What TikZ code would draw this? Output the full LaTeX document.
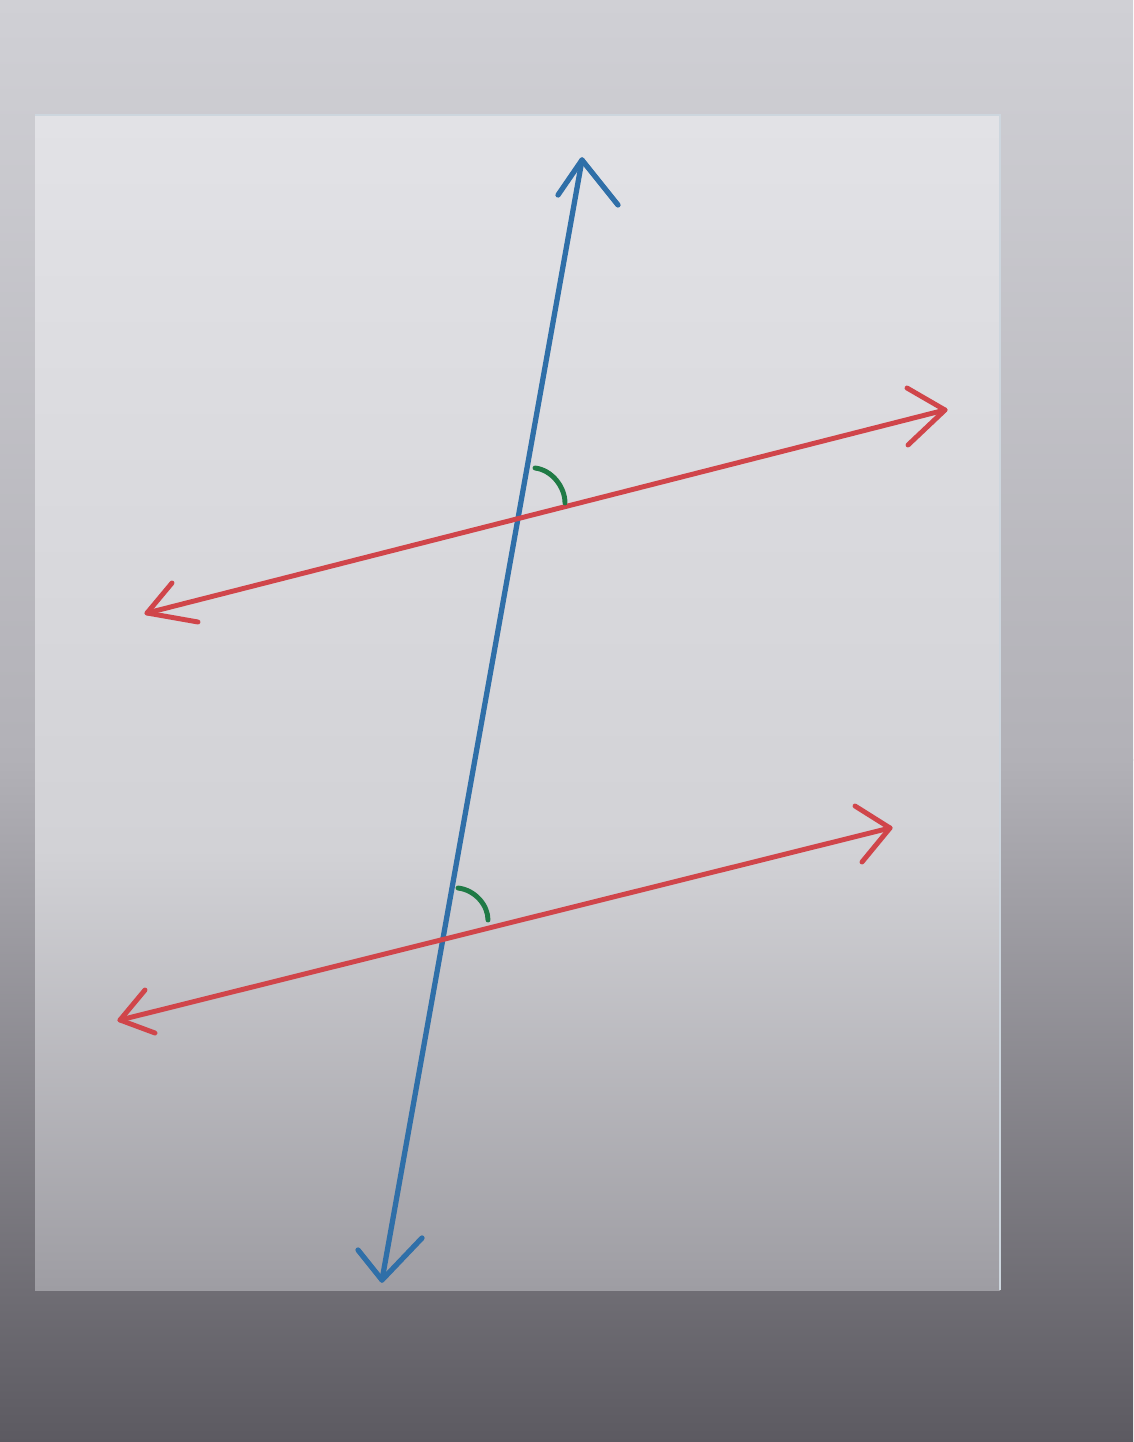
\documentclass[tikz,border=0pt]{standalone}
\usetikzlibrary{calc}
\definecolor{bluel}{HTML}{2F6FA8}
\definecolor{redl}{HTML}{D0454A}
\definecolor{greenl}{HTML}{1F7A45}
\definecolor{outA}{RGB}{208,208,213}
\definecolor{outB}{RGB}{178,177,183}
\definecolor{outC}{RGB}{92,90,97}
\definecolor{panA}{RGB}{226,226,230}
\definecolor{panB}{RGB}{210,210,214}
\definecolor{panC}{RGB}{158,157,163}
\begin{document}
\begin{tikzpicture}[x=0.02cm,y=-0.02cm,
  bline/.style={draw=bluel,line width=3pt,line cap=round,line join=round},
  rline/.style={draw=redl,line width=2.8pt,line cap=round,line join=round},
  angmark/.style={draw=greenl,line width=2.8pt,line cap=round}]
% background (photo of a screen)
\shade[top color=outA,bottom color=outB] (0,0) rectangle (1133,760);
\shade[top color=outB,bottom color=outC] (0,759) rectangle (1133,1442);
\useasboundingbox (0,0) rectangle (1133,1442);
\shade[top color=panA,bottom color=panB] (35,115) rectangle (1000,850);
\shade[top color=panB,bottom color=panC] (35,849) rectangle (1000,1290);
\draw[draw={rgb,255:red,205;green,214;blue,222},line width=1.5pt] (35,115) -- (1000,115) -- (1000,1290);
% coordinates
\coordinate (bT) at (582,160);
\coordinate (bB) at (382,1280);
\coordinate (bTl) at (558,195);
\coordinate (bTr) at (618,205);
\coordinate (bBl) at (358,1250);
\coordinate (bBr) at (422,1238);
\coordinate (r1L) at (147,613);
\coordinate (r1R) at (945,410);
\coordinate (r1Lu) at (172,583);
\coordinate (r1Ld) at (198,622);
\coordinate (r1Ru) at (907,388);
\coordinate (r1Rd) at (908,445);
\coordinate (r2L) at (120,1020);
\coordinate (r2R) at (890,828);
\coordinate (r2Lu) at (145,990);
\coordinate (r2Ld) at (155,1033);
\coordinate (r2Ru) at (855,806);
\coordinate (r2Rd) at (862,862);
% transversal
\draw[bline] (bT) -- (bB);
\draw[bline] (bTl) -- (bT) -- (bTr);
\draw[bline] (bBl) -- (bB) -- (bBr);
% parallel lines
\draw[rline] (r1L) -- (r1R);
\draw[rline] (r1Lu) -- (r1L) -- (r1Ld);
\draw[rline] (r1Ru) -- (r1R) -- (r1Rd);
\draw[rline] (r2L) -- (r2R);
\draw[rline] (r2Lu) -- (r2L) -- (r2Ld);
\draw[rline] (r2Ru) -- (r2R) -- (r2Rd);
% angle marks
\coordinate (a1s) at (535,468);
\coordinate (a1e) at (565,503);
\coordinate (a2s) at (458,888);
\coordinate (a2e) at (488,920);
\draw[angmark] (a1s) .. controls (552,470) and (565,487) .. (a1e);
\draw[angmark] (a2s) .. controls (475,890) and (488,905) .. (a2e);
\end{tikzpicture}
\end{document}
